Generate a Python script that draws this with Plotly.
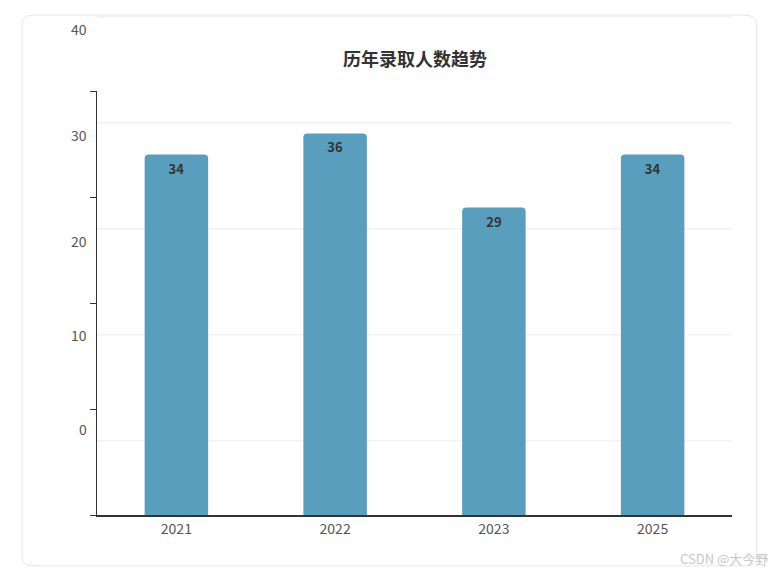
import plotly.graph_objects as go

years = ["2021", "2022", "2023", "2025"]
counts = [34, 36, 29, 34]
tick_vals = [0, 10, 20, 30, 40]
tick_offset = 7  # labels/gridlines in the original are drawn shifted up
y_max = 40

fig = go.Figure(go.Bar(
    x=years, y=counts, width=0.4,
    marker=dict(color="#5a9ebd", line=dict(width=0)),
    text=counts, textposition="inside", insidetextanchor="end",
    textfont=dict(color="#333333", size=13, family="Noto Sans CJK SC"),
    texttemplate="<b>%{text}</b>",
))

# rounded card border
x0, x1, y0, y1, r = -0.118, 1.039, -0.12, 1.179, 0.02
card = (f"M {x0+r},{y0} L {x1-r},{y0} Q {x1},{y0} {x1},{y0+r} L {x1},{y1-r} "
        f"Q {x1},{y1} {x1-r},{y1} L {x0+r},{y1} Q {x0},{y1} {x0},{y1-r} "
        f"L {x0},{y0+r} Q {x0},{y0} {x0+r},{y0} Z")
shapes = [dict(type="path", xref="paper", yref="paper", path=card,
               line=dict(color="#e6e6e6", width=1), layer="below")]
annotations = []
for v in tick_vals:
    yp = (v + tick_offset) / y_max
    shapes.append(dict(type="line", xref="paper", yref="paper", x0=0, x1=1, y0=yp, y1=yp,
                       line=dict(color="#ebebeb", width=1), layer="below"))
    annotations.append(dict(x=0, xref="paper", y=yp, yref="paper", text=str(v),
                            showarrow=False, xanchor="right", xshift=-8,
                            font=dict(size=14, color="#555555")))
annotations.append(dict(x=0.5, xref="paper", y=1.0, yref="paper", yshift=48,
                        text="<b>历年录取人数趋势</b>", showarrow=False,
                        font=dict(size=18, color="#333333")))
annotations.append(dict(x=1.06, xref="paper", y=-0.13, yref="paper", text="CSDN @大今野",
                        showarrow=False, xanchor="right", font=dict(size=13, color="#c8c8c8")))

fig.update_layout(
    width=775, height=572,
    margin=dict(l=89, r=51, t=83, b=65),
    paper_bgcolor="white", plot_bgcolor="white",
    font=dict(family="Noto Sans CJK SC", color="#555555"),
    showlegend=False,
    shapes=shapes, annotations=annotations,
    barcornerradius=4,
    xaxis=dict(showline=True, linecolor="#333333", linewidth=1.5, tickfont=dict(size=14),
               showgrid=False),
    yaxis=dict(range=[0, y_max], tickvals=tick_vals, showticklabels=False, ticks="outside",
               ticklen=6, tickcolor="#333333", showline=True, linecolor="#333333",
               showgrid=False, zeroline=False),
)

fig.write_html("out.html")
